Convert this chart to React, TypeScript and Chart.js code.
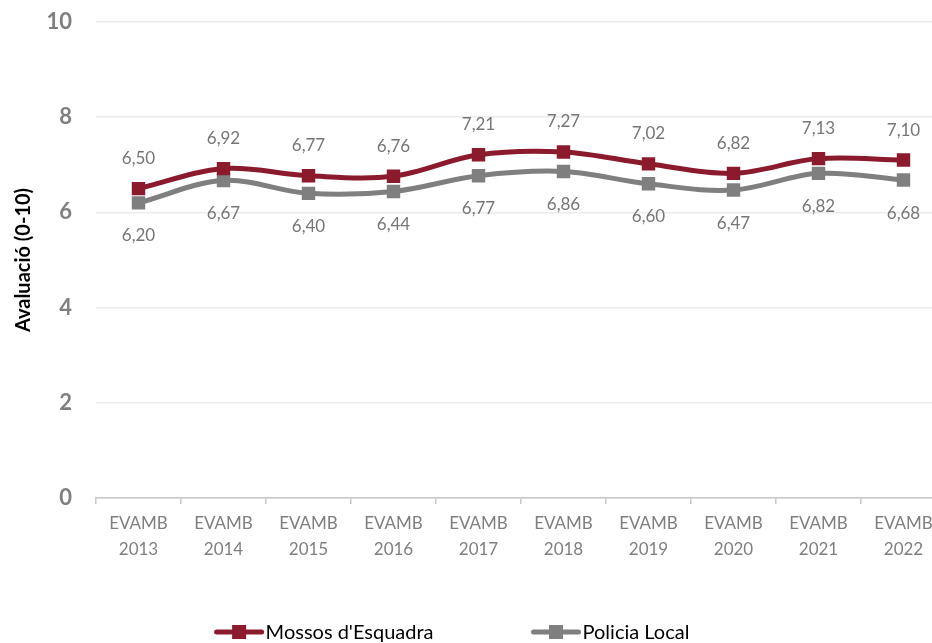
import React, { useEffect, useRef } from 'react';
import { Chart, registerables } from 'chart.js';

Chart.register(...registerables);

const years = ['2013', '2014', '2015', '2016', '2017', '2018', '2019', '2020', '2021', '2022'];
const categoryPrefix = 'EVAMB';
const mossosValues = [6.5, 6.92, 6.77, 6.76, 7.21, 7.27, 7.02, 6.82, 7.13, 7.1];
const policiaValues = [6.2, 6.67, 6.4, 6.44, 6.77, 6.86, 6.6, 6.47, 6.82, 6.68];
const seriesNames = ["Mossos d'Esquadra", 'Policia Local'];
const yAxisTitle = 'Avaluació (0-10)';
const yMin = 0;
const yMax = 10;
const yStep = 2;

const RED = '#8B1B2C';
const GRAY = '#7F7F7F';
const FONT = 'Lato, "Open Sans", sans-serif';

const fmt = (v: number) => v.toFixed(2).replace('.', ',');

const dataLabelPlugin = {
  id: 'dataLabels',
  afterDatasetsDraw(chart: any) {
    const ctx = chart.ctx;
    ctx.save();
    ctx.font = `17px ${FONT}`;
    ctx.fillStyle = '#767676';
    ctx.textAlign = 'center';
    ctx.textBaseline = 'middle';
    chart.data.datasets.forEach((ds: any, i: number) => {
      const meta = chart.getDatasetMeta(i);
      meta.data.forEach((pt: any, j: number) => {
        const off = i === 0 ? -30 : 33;
        ctx.fillText(fmt(ds.data[j]), pt.x, pt.y + off);
      });
    });
    ctx.restore();
  },
};

const legendPlugin = {
  id: 'customLegend',
  afterDraw(chart: any) {
    const ctx = chart.ctx;
    ctx.save();
    ctx.font = `20px ${FONT}`;
    const y = 632;
    const lineW = 49;
    const gapText = 2;
    const gapItems = 98;
    const items = chart.data.datasets.map((ds: any) => ({
      label: ds.label,
      color: ds.borderColor,
      w: lineW + gapText + ctx.measureText(ds.label).width,
    }));
    const total = items.reduce((s: number, it: any) => s + it.w, 0) + gapItems * (items.length - 1);
    let x = 452 - total / 2;
    items.forEach((it: any) => {
      ctx.strokeStyle = it.color;
      ctx.lineWidth = 5;
      ctx.lineCap = 'round';
      ctx.beginPath();
      ctx.moveTo(x + 2, y);
      ctx.lineTo(x + lineW - 2, y);
      ctx.stroke();
      ctx.fillStyle = it.color;
      ctx.fillRect(x + lineW / 2 - 7, y - 7, 14, 14);
      ctx.fillStyle = '#000000';
      ctx.textAlign = 'left';
      ctx.textBaseline = 'middle';
      ctx.fillText(it.label, x + lineW + gapText, y + 1);
      x += it.w + gapItems;
    });
    ctx.restore();
  },
};

export default function App() {
  const ref = useRef<HTMLCanvasElement | null>(null);

  useEffect(() => {
    if (!ref.current) return;
    const chart = new Chart(ref.current, {
      type: 'line',
      data: {
        labels: years.map((y) => [categoryPrefix, y]),
        datasets: [
          {
            label: seriesNames[0],
            data: mossosValues,
            borderColor: RED,
            backgroundColor: RED,
            borderWidth: 5,
            tension: 0.35,
            pointStyle: 'rect',
            pointRadius: 9.5,
            pointBorderWidth: 0,
            pointBackgroundColor: RED,
          },
          {
            label: seriesNames[1],
            data: policiaValues,
            borderColor: GRAY,
            backgroundColor: GRAY,
            borderWidth: 5,
            tension: 0.35,
            pointStyle: 'rect',
            pointRadius: 9.5,
            pointBorderWidth: 0,
            pointBackgroundColor: GRAY,
          },
        ],
      },
      options: {
        animation: false,
        responsive: false,
        maintainAspectRatio: false,
        layout: { autoPadding: false, padding: { top: 22, right: 4, left: 0, bottom: 0 } },
        plugins: {
          legend: { display: false },
          tooltip: { enabled: false },
        },
        scales: {
          x: {
            type: 'category',
            offset: true,
            grid: {
              offset: true,
              drawOnChartArea: false,
              drawTicks: true,
              tickLength: 6,
              color: '#C8C8C8',
              lineWidth: 1.5,
            },
            border: { display: true, color: '#C8C8C8', width: 1.5 },
            ticks: {
              color: '#7F7F7F',
              font: { family: FONT, size: 17, lineHeight: 1.5 },
              padding: 7,
              maxRotation: 0,
              autoSkip: false,
            },
            afterFit(scale: any) {
              scale.height = 145;
              scale.paddingLeft = 0;
              scale.paddingRight = 0;
            },
          },
          y: {
            min: yMin,
            max: yMax,
            ticks: {
              stepSize: yStep,
              color: '#7F7F7F',
              font: { family: FONT, size: 22, weight: 'bold' },
              padding: 24,
            },
            grid: { color: '#EBEBEB', lineWidth: 1.5, drawTicks: false },
            border: { display: false },
            title: {
              display: true,
              text: yAxisTitle,
              color: '#000000',
              font: { family: FONT, size: 20, weight: 'bold' },
              padding: { top: 12, bottom: 0 },
            },
            afterFit(scale: any) {
              scale.width = 96;
              scale.paddingTop = 0;
              scale.paddingBottom = 0;
            },
          },
        },
      },
      plugins: [dataLabelPlugin, legendPlugin],
    });
    return () => chart.destroy();
  }, []);

  return (
    <div
      style={{
        position: 'absolute',
        left: 0,
        top: 0,
        width: 932,
        height: 643,
        overflow: 'hidden',
        background: '#fff',
      }}
    >
      <canvas ref={ref} width={950} height={643} style={{ display: 'block' }} />
    </div>
  );
}
